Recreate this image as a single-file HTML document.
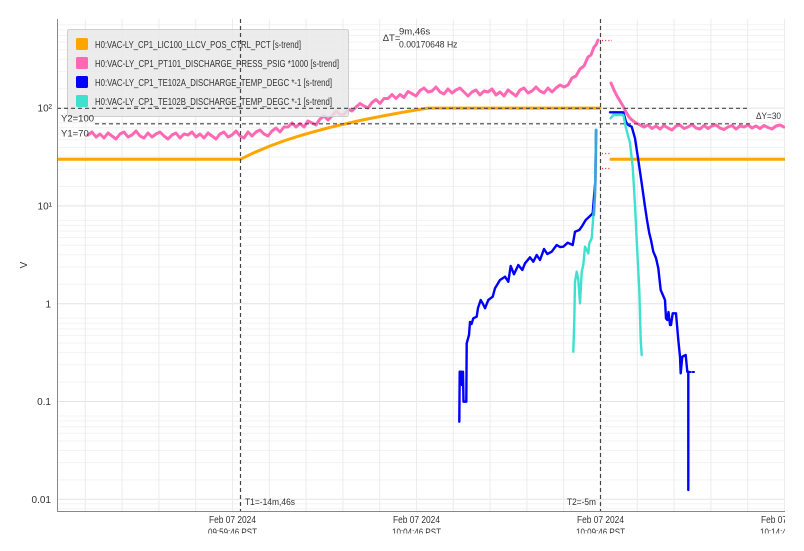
<!DOCTYPE html>
<html><head><meta charset="utf-8">
<style>
html,body{margin:0;padding:0;background:#fff;}
svg{display:block;}
text{font-family:"Liberation Sans",sans-serif;fill:#333;}
</style></head>
<body>
<svg width="804" height="551" viewBox="0 0 804 551" xmlns="http://www.w3.org/2000/svg">
<defs>
<clipPath id="plot"><rect x="57" y="19" width="728" height="492"/></clipPath>
<clipPath id="xl"><rect x="0" y="511" width="785" height="22.5"/></clipPath>
</defs>
<rect width="804" height="551" fill="#fff"/>
<!-- minor horizontal grid -->
<g stroke="#f3f3f3" stroke-width="1">
<path d="M57,479.9H785M57,462.6H785M57,450.4H785M57,440.9H785M57,433.2H785M57,426.7H785M57,421H785M57,416H785
M57,382.1H785M57,364.8H785M57,352.6H785M57,343.1H785M57,335.4H785M57,328.9H785M57,323.2H785M57,318.2H785
M57,284.3H785M57,267H785M57,254.8H785M57,245.3H785M57,237.6H785M57,231.1H785M57,225.4H785M57,220.4H785
M57,186.5H785M57,169.2H785M57,157H785M57,147.5H785M57,139.8H785M57,133.3H785M57,127.6H785M57,122.6H785
M57,88.7H785M57,71.4H785M57,59.2H785M57,49.7H785M57,42H785M57,35.5H785M57,29.8H785M57,24.8H785
M57,508.8H785M57,503.8H785"/>
</g>
<!-- major horizontal grid -->
<g stroke="#e4e4e4" stroke-width="1">
<path d="M57,499.3H785M57,401.5H785M57,303.7H785M57,205.9H785M57,108.1H785"/>
</g>
<!-- vertical grid -->
<g stroke="#ececec" stroke-width="1">
<path d="M85.3,19V511M122.1,19V511M158.9,19V511M195.7,19V511M232.5,19V511M269.3,19V511M306.1,19V511M342.9,19V511M379.7,19V511M416.5,19V511M453.3,19V511M490.1,19V511M526.9,19V511M563.7,19V511M600.5,19V511M637.3,19V511M674.1,19V511M710.9,19V511M747.7,19V511M784.5,19V511"/>
</g>

<g clip-path="url(#plot)" fill="none" stroke-linejoin="round" stroke-linecap="round">
<!-- orange -->
<path stroke="#ffa500" stroke-width="3" d="M57,159.2L240.5,159.2L255,152.2L270,146L285,140.5L300,135.7L315,131.4L330,127.4L345,123.9L360,120.5L375,117.5L390,114.6L405,111.9L420,109.4L428,108.1L600,108.1"/>
<path stroke="#ffa500" stroke-width="3" d="M611,159.2L785,159.2"/>
<!-- pink -->
<path stroke="#ff69b4" stroke-width="3" d="M88,135L92,132L96,137L100,134L104,138L108,133L112,136L116,139L120,134L124,132L128,137L132,135L136,131L140,136L144,138L148,133L152,137L156,134L160,132L164,136L168,139L172,135L176,133L180,138L184,134L188,135L192,132L196,137L200,134L204,138L208,133L212,136L216,139L220,134L224,132L228,137L232,135L236,131L240,136L244,138L248,132L252,136L256,132L260,130L264,134L268,136L272,131L276,128L280,132L284,127L288,127L292,123L296,127L300,123.5L304,127L308,121L312,123L316,125L320,119L324,116L328,120L332,116L336,111L340,114.5L344,115L348,109L352,111L356,107L360,103.5L364,106L368,108L372,102.5L376,99.5L380,103.5L384,98.5L388,98.5L392,94.5L396,98.5L400,94.5L404,97.5L408,91.5L412,93.7L416,96L420,90.5L424,88L428,92L432,91L436,87L440,92L444,94L448,89L452,93L456,90L460,88L464,92L468,96L472,92L476,90L480,95L484,91L488,92L492,89L496,95L500,92L504,96L508,90L512,93L516,96L520,90L524,88L528,93L532,91L536,87L540,91L544,93L548,88L552,92L556,88L560,85L564,87L568,85L572,78L576,76L580,69L584,66L588,57L591,55L594,47L596,45L598,40"/>
<path stroke="#ff69b4" stroke-width="3" d="M611,83L614,90L617,96L620,101L623,106L626,112L629,117L632,120L636,123L640,125L644,127L648,125L652,128.5L656,126L660,129L664,125.5L668,128L672,130L676,126L680,125L684,128.5L688,127L692,124.5L696,128L700,129L704,125.5L708,128.5L712,126L716,125L720,128L724,129.5L728,127L732,125.5L736,129L740,126L744,127L748,125L752,128L756,126L760,128.5L764,125.5L768,127.5L772,129L776,126L780,125L784,127"/>
<!-- blue -->
<path stroke="#0000ff" stroke-width="2.4" d="M459.3,421.7L459.7,371.7L461.3,371.7L462,385L463,371.7L463.5,401.7L466.3,401.7L466.7,343.3L469,335L470,322L471.5,324L473.3,318.3L476.7,316.7L478,308L480.7,300L483,304L485,308.3L488.3,300L492.7,296.7L495,288.3L500,280L505,276.7L508.3,281.7L510.7,266L514,274.3L518.3,265L522.3,270L525,263.3L530,257.3L533.3,261.7L536.7,255L540,260L544,249L547.3,254L551.7,251.7L556.7,245L560,247L563.3,246.7L567.7,242.7L572.7,245L575,231.7L579.3,230L581.7,226.7L585.7,220L590,216L592.7,213.3L594,196.7L595.3,181.7L596,130"/>
<path stroke="#0000ff" stroke-width="2.4" d="M610,112.3L623.3,112.3L626,122L628.3,125L631.7,126.7L635,138.3L638.3,160L641.7,183.3L645,206.7L647,220L649.3,233.3L651,240L653.3,251.7L656,258L658.3,268.3L660.7,290L665,300L666,318.3L667.3,320L668.5,312L670,325L671,325L672.7,313.3L676,313.3L678.3,340L680,356.7L680.7,373.3L682.3,356.7L685.7,355L687.3,371.7L688.3,371.7L688.3,490"/>
<path stroke="#0000ff" stroke-width="2" stroke-dasharray="1.5,2" d="M689,372L695,372"/>
<!-- cyan -->
<path stroke="#40e0d0" stroke-width="2.4" d="M573.3,351.7L574.3,320L575,281.7L576.7,271.7L578.3,280L580,303.3L581.7,271.7L583.3,265L585,246.7L586.7,250L588.3,253.3L589.3,243.3L591.7,238.3L593.3,216.7L595,196.7L596,130"/>
<path stroke="#40e0d0" stroke-width="2.4" d="M610.7,118.3L613.3,115L623.3,115L626,128L630,143L632.7,166.7L635,205L636.7,240L639.3,290L640.7,340L641.7,355"/>
<path stroke="#3a8ae0" stroke-width="2.6" opacity="0.7" d="M594,215L594.8,196.7L595.5,180L596.3,130"/>
<!-- red dotted markers -->
<g stroke="#ff2020" stroke-width="1.2" stroke-dasharray="1,2.2" stroke-linecap="butt">
<path d="M602,40.5H612M602,153.5H611M602,168.5H611"/>
</g>
</g>

<!-- legend -->
<rect x="67.5" y="29.5" width="281" height="87" rx="2" fill="#e8e8e8" fill-opacity="0.82" stroke="#cfcfcf" stroke-width="1"/>
<rect x="76" y="38" width="12" height="12" rx="1.5" fill="#ffa500"/>
<rect x="76" y="57" width="12" height="12" rx="1.5" fill="#ff69b4"/>
<rect x="76" y="76" width="12" height="12" rx="1.5" fill="#0000ff"/>
<rect x="76" y="95" width="12" height="12" rx="1.5" fill="#40e0d0"/>
<g font-size="10.5">
<text x="95" y="48" textLength="206" lengthAdjust="spacingAndGlyphs">H0:VAC-LY_CP1_LIC100_LLCV_POS_CTRL_PCT [s-trend]</text>
<text x="95" y="67" textLength="244" lengthAdjust="spacingAndGlyphs">H0:VAC-LY_CP1_PT101_DISCHARGE_PRESS_PSIG *1000 [s-trend]</text>
<text x="95" y="86" textLength="237" lengthAdjust="spacingAndGlyphs">H0:VAC-LY_CP1_TE102A_DISCHARGE_TEMP_DEGC *-1 [s-trend]</text>
<text x="95" y="105" textLength="237" lengthAdjust="spacingAndGlyphs">H0:VAC-LY_CP1_TE102B_DISCHARGE_TEMP_DEGC *-1 [s-trend]</text>
</g>

<!-- cursors -->
<g stroke="#444" stroke-width="1.2" stroke-dasharray="4,3" fill="none">
<path d="M240.5,19V511M600.5,19V511"/>
<path d="M57,108.3H750M95,123.8H750"/>
</g>

<!-- axes -->
<path d="M57.5,19V511.5H785" stroke="#888" stroke-width="1" fill="none"/>

<!-- y labels -->
<g font-size="10" text-anchor="end" fill="#444">
<text x="52" y="111.5">10²</text>
<text x="52" y="209.5">10¹</text>
<text x="51" y="307.5">1</text>
<text x="51" y="405">0.1</text>
<text x="51" y="502.8">0.01</text>
</g>
<text x="0" y="0" font-size="10" transform="translate(27,265) rotate(-90)" text-anchor="middle">V</text>

<!-- cursor labels -->
<g font-size="9.5">
<text x="61" y="121.5">Y2=100</text>
<text x="61" y="136.5">Y1=70</text>
<text x="756" y="119" textLength="25" lengthAdjust="spacingAndGlyphs">ΔY=30</text>
<text x="382.7" y="41">ΔT=</text>
<text x="399" y="34.5">9m,46s</text>
<text x="399" y="47.5" textLength="58.5" lengthAdjust="spacingAndGlyphs">0.00170648 Hz</text>
<text x="245" y="505" textLength="50" lengthAdjust="spacingAndGlyphs">T1=-14m,46s</text>
<text x="567" y="505" textLength="29" lengthAdjust="spacingAndGlyphs">T2=-5m</text>
</g>

<!-- x labels -->
<g clip-path="url(#xl)" font-size="10" text-anchor="middle">
<text x="232.5" y="523" textLength="47" lengthAdjust="spacingAndGlyphs">Feb 07 2024</text>
<text x="232.5" y="535.5" textLength="49" lengthAdjust="spacingAndGlyphs">09:59:46 PST</text>
<text x="416.5" y="523" textLength="47" lengthAdjust="spacingAndGlyphs">Feb 07 2024</text>
<text x="416.5" y="535.5" textLength="49" lengthAdjust="spacingAndGlyphs">10:04:46 PST</text>
<text x="600.5" y="523" textLength="47" lengthAdjust="spacingAndGlyphs">Feb 07 2024</text>
<text x="600.5" y="535.5" textLength="49" lengthAdjust="spacingAndGlyphs">10:09:46 PST</text>
<text x="784.5" y="523" textLength="47" lengthAdjust="spacingAndGlyphs">Feb 07 2024</text>
<text x="784.5" y="535.5" textLength="49" lengthAdjust="spacingAndGlyphs">10:14:46 PST</text>
</g>
</svg>
</body></html>
